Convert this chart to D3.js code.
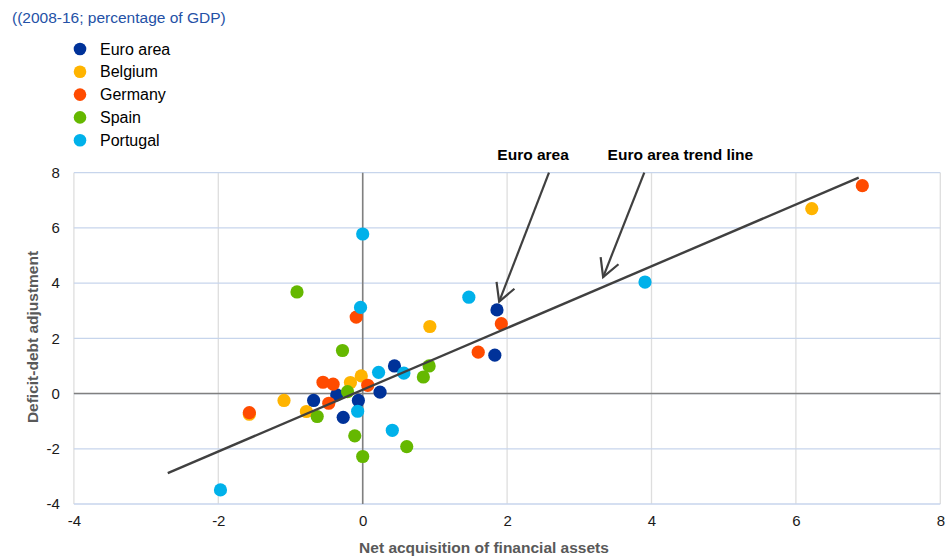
<!DOCTYPE html>
<html><head><meta charset="utf-8">
<script src="https://cdn.jsdelivr.net/npm/d3@7"></script>
<style>body{margin:0;background:#fff;font-family:"Liberation Sans",Arial,sans-serif;}</style>
</head><body>
<svg id="c" width="949" height="557"></svg>
<script>
const title = "((2008-16; percentage of GDP)";
const seriesNames = ["Euro area","Belgium","Germany","Spain","Portugal"];
const seriesColors = ["#003299","#ffb400","#ff4b00","#65b800","#00b1ea"];
const euroArea = [[1.86,3.03],[1.83,1.39],[0.44,1.00],[0.24,0.05],[-0.36,-0.05],[-0.06,-0.25],[-0.68,-0.25],[-0.27,-0.86]];
const belgium = [[6.22,6.70],[0.93,2.43],[-0.02,0.64],[-0.17,0.40],[-1.09,-0.25],[-0.78,-0.65],[-1.57,-0.75]];
const germany = [[6.92,7.53],[1.92,2.53],[1.60,1.50],[-0.09,2.77],[0.07,0.30],[-0.55,0.41],[-0.41,0.34],[-0.47,-0.35],[-1.57,-0.69]];
const spain = [[-0.91,3.68],[-0.28,1.56],[0.92,1.00],[0.84,0.60],[-0.21,0.07],[-0.63,-0.83],[-0.11,-1.53],[0.61,-1.92],[0.00,-2.28]];
const portugal = [[0.00,5.78],[-0.03,3.12],[1.47,3.49],[3.91,4.04],[0.22,0.77],[0.57,0.74],[-0.07,-0.64],[0.41,-1.33],[-1.97,-3.49]];
const trendLine = [[-2.70,-2.88],[6.87,7.82]];
const xTicks = [-4,-2,0,2,4,6,8];
const yTicks = [-4,-2,0,2,4,6,8];
const annotations = [
  {label:"Euro area", labelX:2.36, tail:[2.58,8.0], tip:[1.89,3.33]},
  {label:"Euro area trend line", labelX:4.40, tail:[3.90,8.0], tip:[3.33,4.22]}
];
const xTitle = "Net acquisition of financial assets";
const yTitle = "Deficit-debt adjustment";

const allSeries = [euroArea, belgium, germany, spain, portugal];
const svg = d3.select("#c");
const L = 73.9, R = 940.3, T = 172.7, B = 504;
const x = d3.scaleLinear().domain([-4,8]).range([L,R]);
const y = d3.scaleLinear().domain([-4,8]).range([B,T]);

// title
svg.append("text").attr("x",12).attr("y",23).attr("font-size",15.5).attr("fill","#2451a6").text(title);

// legend
const lg = svg.append("g");
seriesNames.forEach((n,i)=>{
  const yy = 49 + i*22.8;
  lg.append("circle").attr("cx",80).attr("cy",yy).attr("r",6.3).attr("fill",seriesColors[i]);
  lg.append("text").attr("x",100).attr("y",yy+5.5).attr("font-size",16).attr("fill","#000").text(n);
});

// grid
const g = svg.append("g");
g.selectAll("line.v").data(xTicks).join("line")
  .attr("x1",d=>x(d)).attr("x2",d=>x(d)).attr("y1",T).attr("y2",B)
  .attr("stroke","#dedede").attr("stroke-width",1.3);
g.selectAll("line.h").data(yTicks).join("line")
  .attr("x1",L).attr("x2",R).attr("y1",d=>y(d)).attr("y2",d=>y(d))
  .attr("stroke","#c7d5ec").attr("stroke-width",1.3);
// zero axes
g.append("line").attr("x1",L).attr("x2",R).attr("y1",y(0)).attr("y2",y(0)).attr("stroke","#808080").attr("stroke-width",1.6);
g.append("line").attr("x1",x(0)).attr("x2",x(0)).attr("y1",T).attr("y2",B).attr("stroke","#808080").attr("stroke-width",1.6);

// tick labels via axes
const xAxis = svg.append("g").attr("transform",`translate(0,${B})`)
  .call(d3.axisBottom(x).tickValues(xTicks).tickSize(0).tickPadding(11).tickFormat(d=>String(d)));
const yAxis = svg.append("g").attr("transform",`translate(${L},0)`)
  .call(d3.axisLeft(y).tickValues(yTicks).tickSize(0).tickPadding(14).tickFormat(d=>String(d)));
[xAxis,yAxis].forEach(a=>{
  a.select(".domain").remove();
  a.selectAll("text").attr("font-size",15).attr("font-family","Liberation Sans, Arial, sans-serif").attr("fill","#1a1a1a");
});

// axis titles
svg.append("text").attr("x",484).attr("y",553).attr("text-anchor","middle").attr("font-size",15.5)
  .attr("font-weight","bold").attr("fill","#595959").text(xTitle);
svg.append("text").attr("transform","translate(38,337) rotate(-90)").attr("text-anchor","middle").attr("font-size",15.5)
  .attr("font-weight","bold").attr("fill","#595959").text(yTitle);

// points
allSeries.forEach((s,i)=>{
  svg.append("g").selectAll("circle").data(s).join("circle")
    .attr("cx",d=>x(d[0])).attr("cy",d=>y(d[1])).attr("r",6.6).attr("fill",seriesColors[i]);
});

// trend line
svg.append("path").datum(trendLine)
  .attr("d",d3.line().x(d=>x(d[0])).y(d=>y(d[1])))
  .attr("stroke","#404040").attr("stroke-width",2.4).attr("fill","none");

// annotations
annotations.forEach(a=>{
  const x1=x(a.tail[0]), y1=y(a.tail[1]), x2=x(a.tip[0]), y2=y(a.tip[1]);
  svg.append("line").attr("x1",x1).attr("y1",y1).attr("x2",x2).attr("y2",y2)
    .attr("stroke","#404040").attr("stroke-width",2.2);
  const ang = Math.atan2(y2-y1,x2-x1);
  const len = 20, spread = 0.5;
  const p1 = [x2 - len*Math.cos(ang-spread), y2 - len*Math.sin(ang-spread)];
  const p2 = [x2 - len*Math.cos(ang+spread), y2 - len*Math.sin(ang+spread)];
  svg.append("path").attr("d",`M${p1[0]},${p1[1]}L${x2},${y2}L${p2[0]},${p2[1]}`)
    .attr("stroke","#404040").attr("stroke-width",2.2).attr("fill","none");
  svg.append("text").attr("x",x(a.labelX)).attr("y",160).attr("text-anchor","middle")
    .attr("font-size",15.5).attr("font-weight","bold").attr("fill","#000").text(a.label);
});
</script>
</body></html>
